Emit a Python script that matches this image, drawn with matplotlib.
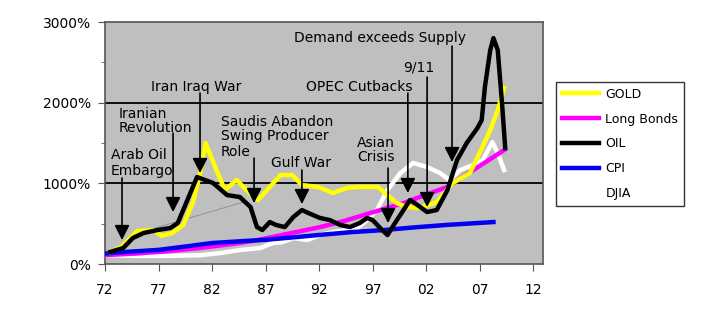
import matplotlib
matplotlib.use("Agg")
import matplotlib.pyplot as plt
from matplotlib.ticker import FixedLocator, MultipleLocator

plt.rcParams['font.family'] = ['DejaVu Sans']

# ---- data (years as 72..112 => 1972..2012, values in %) ----
gold_x = [72.5, 73.5, 74.2, 75.0, 76.5, 77.3, 78.3, 79.3, 80.2, 80.9, 81.4, 82.3, 83.2, 84.3,
          85.5, 86.3, 87.4, 88.4, 89.5, 90.4, 91.9, 93.3, 94.6, 95.6, 97.5, 98.4, 99.2,
          100.2, 101.4, 103.0, 104.5, 106.1, 107.0, 108.0, 108.7, 109.3]
gold_y = [150, 210, 300, 410, 421, 350, 384, 483, 756, 1128, 1500, 1202, 917, 1041,
          880, 793, 955, 1103, 1103, 979, 955, 880, 942, 955, 955, 855, 760,
          706, 694, 768, 1004, 1128, 1375, 1660, 1908, 2181]

oil_x = [72.5, 73.7, 74.6, 75.6, 76.9, 78.1, 78.8, 79.7, 80.6, 82.1, 83.4, 84.6, 85.6, 86.2,
         86.7, 87.4, 88.0, 88.8, 89.6, 90.4, 91.0, 92.1, 93.0, 94.0, 94.9, 95.8, 96.5,
         97.0, 97.9, 98.4, 99.1, 99.9, 100.5, 101.2, 102.1, 103.0, 104.0, 104.9, 105.8,
         106.8, 107.2, 107.5, 108.0, 108.3, 108.7, 109.1, 109.4]
oil_y = [150, 198, 322, 384, 421, 446, 508, 793, 1078, 1004, 855, 830, 706, 458,
         421, 520, 483, 458, 582, 669, 632, 570, 545, 483, 458, 508, 570,
         545, 421, 359, 508, 669, 793, 731, 644, 669, 917, 1289, 1500,
         1685, 1784, 2193, 2652, 2800, 2652, 1995, 1437]

bonds_x = [72, 75, 78, 81, 84, 86, 88, 90, 92, 94, 96, 98, 100, 102, 104, 106, 108, 109.3]
bonds_y = [110, 130, 160, 200, 250, 290, 345, 400, 455, 520, 600, 680, 760, 860, 955, 1130, 1300, 1413]

cpi_x = [72, 74, 77, 80, 82, 85, 87, 90, 92, 95, 98, 101, 104, 108.3]
cpi_y = [130, 150, 175, 225, 260, 285, 300, 335, 360, 395, 420, 455, 485, 520]

djia_x = [72, 75, 78, 81, 83, 84.6, 86.5, 87.7, 88.6, 89.6, 90.9, 92.1, 93.3, 94.6, 95.6,
          96.5, 97.4, 98.4, 99.6, 100.8, 102.1, 103.3, 104.2, 105.2, 106.4, 107.3, 108.2,
          108.7, 109.3]
djia_y = [110, 100, 100, 110, 140, 173, 198, 260, 272, 322, 297, 359, 397, 421, 446,
          545, 669, 917, 1128, 1252, 1202, 1128, 1041, 1165, 1227, 1289, 1512,
          1375, 1165]

trend_x = [75, 85]
trend_y = [380, 770]

xtick_pos = [72, 77, 82, 87, 92, 97, 102, 107, 112]
xtick_labels = ["72", "77", "82", "87", "92", "97", "02", "07", "12"]
ytick_pos = [0, 1000, 2000, 3000]
ytick_labels = ["0%", "1000%", "2000%", "3000%"]

fig = plt.figure(figsize=(7.2, 3.3), dpi=100)
ax = fig.add_axes([105/720, 1-264/330, 438/720, 242/330])
ax.set_facecolor('#bfbfbf')
ax.set_xlim(72, 112.93)
ax.set_ylim(0, 3000)

for y in (1000, 2000):
    ax.axhline(y, color='black', lw=1.3, zorder=1)

ax.plot(trend_x, trend_y, color='#8a8a8a', lw=0.6, zorder=2)
ax.plot(djia_x, djia_y, color='white', lw=3.2, label='DJIA', zorder=3, solid_joinstyle='round')
ax.plot(bonds_x, bonds_y, color='#ff00ff', lw=3.2, label='Long Bonds', zorder=4, solid_joinstyle='round')
ax.plot(cpi_x, cpi_y, color='#0000ee', lw=3.2, label='CPI', zorder=5, solid_joinstyle='round')
ax.plot(gold_x, gold_y, color='#ffff00', lw=3.2, label='GOLD', zorder=6, solid_joinstyle='round')
ax.plot(oil_x, oil_y, color='black', lw=3.2, label='OIL', zorder=7, solid_joinstyle='round')

ax.xaxis.set_major_locator(FixedLocator(xtick_pos))
ax.set_xticklabels(xtick_labels)
ax.yaxis.set_major_locator(FixedLocator(ytick_pos))
ax.set_yticklabels(ytick_labels)
ax.yaxis.set_minor_locator(MultipleLocator(500))
ax.tick_params(axis='x', direction='out', length=5, pad=9, labelsize=10, color='#555555')
ax.tick_params(axis='y', which='major', direction='out', length=5, pad=5, labelsize=10, color='#555555')
ax.tick_params(axis='y', which='minor', direction='out', length=3, color='#555555')
for s in ax.spines.values():
    s.set_color('#555555')
    s.set_linewidth(1.2)

fs = 10
def note(lines, tx, tys, ax_x, y0, y1):
    for line, ty in zip(lines, tys):
        ax.text(tx, ty, line, fontsize=fs, ha='left', va='center', zorder=9)
    ax.annotate('', xy=(ax_x, y1), xytext=(ax_x, y0),
                arrowprops=dict(arrowstyle='-|>,head_length=0.75,head_width=0.38',
                                color='black', lw=1.2, mutation_scale=12,
                                shrinkA=0, shrinkB=0), zorder=9)

note(["Arab Oil", "Embargo"], 72.56, [1351, 1152], 73.59, 1066, 297)
note(["Iranian", "Revolution"], 73.3, [1859, 1685], 78.36, 1623, 644)
note(["Iran Iraq War"], 76.3, [2193], 80.88, 2119, 1128)
note(["Saudis Abandon", "Swing Producer", "Role"], 82.84, [1760, 1586, 1388], 85.93, 1313, 756)
note(["Gulf War"], 87.5, [1251], 90.4, 1165, 743)
note(["Asian", "Crisis"], 95.55, [1499, 1326], 98.45, 1189, 508)
note(["OPEC Cutbacks"], 90.79, [2193], 100.3, 2119, 880)
note(["9/11"], 99.85, [2441], 102.1, 2317, 706)
note(["Demand exceeds Supply"], 89.66, [2800], 104.43, 2701, 1264)

handles, labels = ax.get_legend_handles_labels()
order = ['GOLD', 'Long Bonds', 'OIL', 'CPI', 'DJIA']
hmap = dict(zip(labels, handles))
leg = fig.legend([hmap[k] for k in order], order, loc='upper left',
                 bbox_to_anchor=(556/720, 1-82/330), fontsize=9, frameon=True,
                 fancybox=False, edgecolor='black', handlelength=3.0,
                 labelspacing=0.95, borderpad=0.45, handletextpad=0.5, borderaxespad=0)
leg.get_frame().set_linewidth(1.0)

fig.savefig('out.png', dpi=100)
